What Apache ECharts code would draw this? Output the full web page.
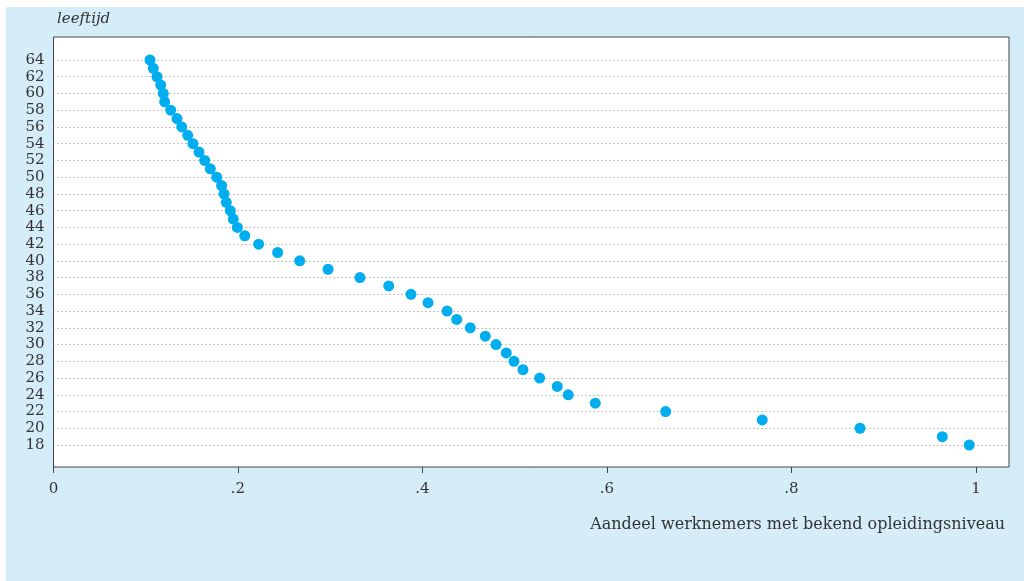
<!DOCTYPE html>
<html>
<head>
<meta charset="utf-8">
<script src="https://cdn.jsdelivr.net/npm/echarts@6/dist/echarts.min.js"></script>
<style>
html,body{margin:0;padding:0;background:#fff;}
#c{width:1024px;height:581px;}
</style>
</head>
<body>
<div id="c"></div>
<script>
// Data
const ages = [64,63,62,61,60,59,58,57,56,55,54,53,52,51,50,49,48,47,46,45,44,43,42,41,40,39,38,37,36,35,34,33,32,31,30,29,28,27,26,25,24,23,22,21,20,19,18];
const shares = [0.1046,0.1082,0.1122,0.1162,0.1190,0.1205,0.1270,0.1339,0.1390,0.1455,0.1512,0.1577,0.1639,0.1700,0.1769,0.1823,0.1848,0.1873,0.1917,0.1949,0.1993,0.2073,0.2224,0.2430,0.2669,0.2976,0.3322,0.3634,0.3875,0.4060,0.4266,0.4371,0.4518,0.4681,0.4797,0.4908,0.4992,0.5089,0.5270,0.5461,0.5580,0.5873,0.6636,0.7683,0.8743,0.9635,0.9927];
const yTicks = [18,20,22,24,26,28,30,32,34,36,38,40,42,44,46,48,50,52,54,56,58,60,62,64];
const xTicks = [0,0.2,0.4,0.6,0.8,1];
const yName = 'leeftijd';
const xName = 'Aandeel werknemers met bekend opleidingsniveau';

const serif = '"DejaVu Serif", "Liberation Serif", serif';
const chart = echarts.init(document.getElementById('c'), null, {renderer:'canvas'});
chart.setOption({
  backgroundColor: '#ffffff',
  animation: false,
  graphic: [
    {type:'rect', z:-10, shape:{x:6,y:7,width:1018,height:574}, style:{fill:'#d5ecf9'}},
    {type:'text', left:57, top:12, style:{text:yName, font:'italic 15px ' + serif, fill:'#333'}},
    {type:'text', right:19, top:517, style:{text:xName, font:'16px ' + serif, fill:'#333', textAlign:'right'}}
  ],
  grid: {left:53.5, top:37, right:15, bottom:114, show:true, backgroundColor:'#ffffff', borderColor:'#444', borderWidth:1, containLabel:false},
  xAxis: {
    type:'value', min:0, max:1.0358,
    axisLine:{show:false},
    axisTick:{show:true, inside:false, length:6, lineStyle:{color:'#444', width:1}, customValues: xTicks},
    axisLabel:{show:true, customValues: xTicks, margin:15, color:'#333', fontFamily:serif, fontSize:15,
      formatter: v => v === 0 ? '0' : (v === 1 ? '1' : String(+v.toFixed(1)).replace(/^0/, ''))},
    splitLine:{show:false}
  },
  yAxis: {
    type:'value', min:15.371, max:66.748,
    axisLine:{show:false},
    axisTick:{show:false, customValues: yTicks},
    axisLabel:{show:true, customValues: yTicks, margin:9, color:'#333', fontFamily:serif, fontSize:15, lineHeight:15},
    splitLine:{show:true, lineStyle:{color:'#888', width:1, type:[1,3]}}
  },
  series: [{
    type:'scatter',
    data: ages.map((a,i) => [shares[i], a]),
    symbol:'circle', symbolSize:11,
    itemStyle:{color:'#00aeef', opacity:1},
    z:5
  }]
});
</script>
</body>
</html>
